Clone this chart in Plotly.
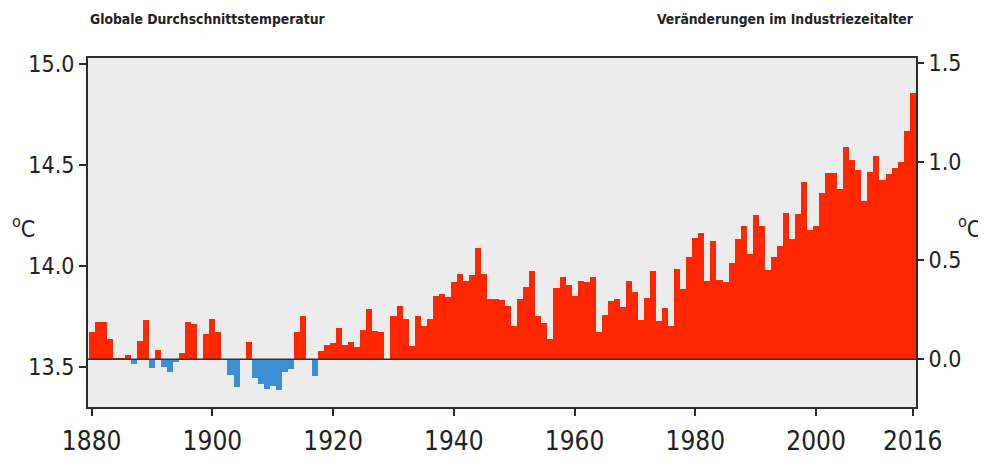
import plotly.graph_objects as go

# Years and anomalies (°C relative to pre-industrial baseline)
years = list(range(1880, 2017))
anomaly = [
    0.137, 0.186, 0.186, 0.103, 0.008, 0.006, 0.024, -0.023, 0.092, 0.200,   # 1880-1889
    -0.045, 0.047, -0.037, -0.064, -0.013, 0.031, 0.190, 0.177, 0.0, 0.127,   # 1890-1899
    0.205, 0.140, 0.0, -0.080, -0.142, 0.0, 0.088, -0.095, -0.127, -0.148,    # 1900-1909
    -0.137, -0.153, -0.063, -0.048, 0.137, 0.219, 0.0, -0.084, 0.044, 0.072,  # 1910-1919
    0.084, 0.160, 0.071, 0.087, 0.060, 0.148, 0.253, 0.145, 0.137, 0.0,       # 1920-1929
    0.217, 0.269, 0.205, 0.068, 0.217, 0.169, 0.205, 0.322, 0.328, 0.317,     # 1930-1939
    0.390, 0.433, 0.398, 0.427, 0.562, 0.430, 0.304, 0.304, 0.298, 0.269,     # 1940-1949
    0.167, 0.306, 0.365, 0.446, 0.220, 0.184, 0.101, 0.360, 0.415, 0.374,     # 1950-1959
    0.321, 0.398, 0.390, 0.414, 0.140, 0.224, 0.295, 0.306, 0.263, 0.394,     # 1960-1969
    0.341, 0.200, 0.309, 0.446, 0.196, 0.261, 0.167, 0.459, 0.357, 0.519,     # 1970-1979
    0.615, 0.639, 0.398, 0.596, 0.403, 0.390, 0.486, 0.610, 0.675, 0.535,     # 1980-1989
    0.732, 0.676, 0.454, 0.515, 0.575, 0.739, 0.607, 0.736, 0.897, 0.655,     # 1990-1999
    0.672, 0.840, 0.940, 0.940, 0.860, 1.074, 1.010, 0.958, 0.800, 0.945,     # 2000-2009
    1.029, 0.908, 0.937, 0.966, 1.000, 1.155, 1.348,                          # 2010-2016
]

x_ticks = [1880, 1900, 1920, 1940, 1960, 1980, 2000, 2016]
left_ticks = [13.5, 14.0, 14.5, 15.0]
right_ticks = [0.0, 0.5, 1.0, 1.5]

title_left = "Globale Durchschnittstemperatur"
title_right = "Veränderungen im Industriezeitalter"

RED = "#ff2600"
BLUE = "#3b8fd2"
colors = [RED if v >= 0 else BLUE for v in anomaly]

FONT = "Liberation Sans Narrow, DejaVu Sans Condensed, Arial Narrow, sans-serif"
AXC = "#2b2b2b"

fig = go.Figure()
# dummy trace to anchor left (absolute temperature) axis
fig.add_trace(go.Scatter(x=[None], y=[None], yaxis="y", showlegend=False, hoverinfo="skip"))
fig.add_trace(go.Bar(
    x=years, y=anomaly, yaxis="y2", width=1.0,
    marker=dict(color=colors, line=dict(width=0)),
    showlegend=False,
))

fig.update_layout(
    width=978, height=460,
    margin=dict(l=80, r=70, t=50, b=45),
    paper_bgcolor="white",
    plot_bgcolor="#ececec",
    bargap=0,
    font=dict(family=FONT, color="#222"),
    xaxis=dict(
        range=[1879.4, 2016.55],
        tickvals=x_ticks, ticktext=[str(t) for t in x_ticks],
        ticks="outside", ticklen=7, tickwidth=1.5, tickcolor=AXC,
        ticklabelstandoff=3,
        showgrid=False, zeroline=False,
        showline=True, linecolor=AXC, linewidth=2, mirror=True,
        tickfont=dict(size=26, family=FONT, color="#222"),
    ),
    yaxis=dict(
        range=[13.301, 15.028],
        tickvals=left_ticks, ticktext=[f"{t:.1f}" for t in left_ticks],
        ticks="outside", ticklen=7, tickwidth=1.5, tickcolor=AXC,
        showgrid=False, zeroline=False,
        showline=True, linecolor=AXC, linewidth=2, mirror=True,
        tickfont=dict(size=23, family=FONT, color="#222"),
    ),
    yaxis2=dict(
        range=[-0.2415, 1.524],
        overlaying="y", side="right",
        tickvals=right_ticks, ticktext=[f"{t:.1f}" for t in right_ticks],
        ticks="outside", ticklen=7, tickwidth=1.5, tickcolor=AXC,
        showgrid=False, zeroline=False, showline=False,
        tickfont=dict(size=23, family=FONT, color="#222"),
    ),
    shapes=[dict(type="line", xref="paper", x0=0, x1=1, yref="y2", y0=0, y1=0,
                 line=dict(color="#333", width=1.5), layer="above")],
    annotations=[
        dict(text=f"<b>{title_left}</b>", xref="paper", yref="paper", x=0, y=1,
             xanchor="left", yanchor="bottom", yshift=29, showarrow=False,
             font=dict(size=13.8, family=FONT, color="#222")),
        dict(text=f"<b>{title_right}</b>", xref="paper", yref="paper", x=1, y=1,
             xanchor="right", yanchor="bottom", yshift=29, showarrow=False,
             font=dict(size=13.8, family=FONT, color="#222")),
        dict(text="<sup>o</sup>C", xref="paper", yref="paper", x=0, y=0.5,
             xanchor="left", yanchor="middle", xshift=-78, yshift=6, showarrow=False,
             font=dict(size=23, family=FONT, color="#222")),
        dict(text="<sup>o</sup>C", xref="paper", yref="paper", x=1, y=0.5,
             xanchor="left", yanchor="middle", xshift=40, yshift=6, showarrow=False,
             font=dict(size=23, family=FONT, color="#222")),
    ],
)

fig.write_html("out.html")
